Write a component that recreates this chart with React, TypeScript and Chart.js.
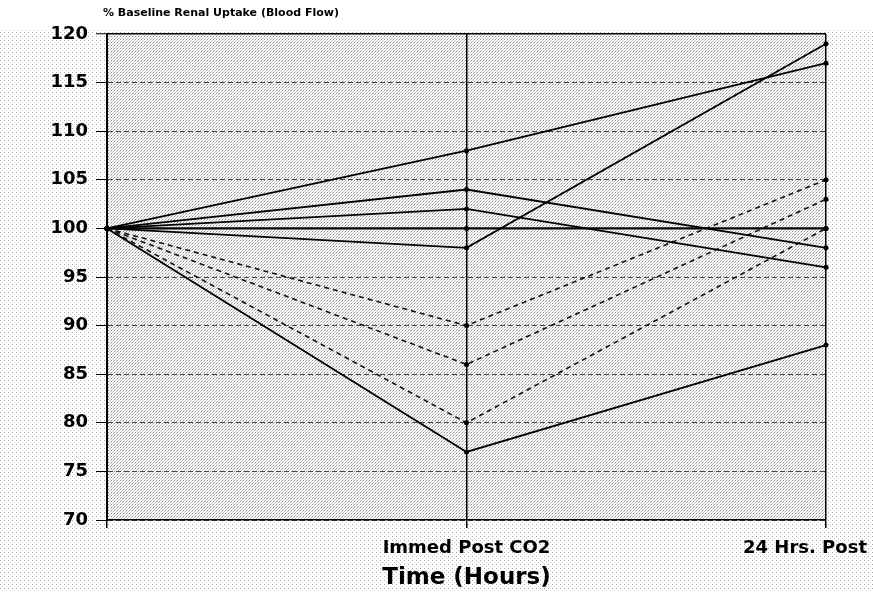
import React, { useEffect, useRef } from "react";
import { Chart, registerables } from "chart.js";

Chart.register(...registerables);

// ---- data ----
const timePoints = ["Baseline", "Immed Post CO2", "24 Hrs. Post"];
const tickLabels = ["", "Immed Post CO2", "24 Hrs. Post"];
const yMin = 70;
const yMax = 120;
const yStep = 5;

const solid1 = [100, 108, 117];
const solid2 = [100, 104, 98];
const solid3 = [100, 102, 96];
const solid4 = [100, 98, 119];
const solid5 = [100, 77, 88];
const solid6 = [100, 100, 100];
const dashed1 = [100, 90, 105];
const dashed2 = [100, 86, 103];
const dashed3 = [100, 80, 100];

const chartTitle = "% Baseline Renal Uptake (Blood Flow)";
const xAxisTitle = "Time (Hours)";

const FONT = '"DejaVu Sans", "Liberation Sans", sans-serif';

function makePattern(
  ctx: CanvasRenderingContext2D,
  bg: string,
  dots: [number, number, string][],
  size: number
) {
  const c = document.createElement("canvas");
  c.width = size;
  c.height = size;
  const g = c.getContext("2d")!;
  g.fillStyle = bg;
  g.fillRect(0, 0, size, size);
  dots.forEach(([x, y, col]) => {
    g.fillStyle = col;
    g.fillRect(x, y, 1, 1);
  });
  return ctx.createPattern(c, "repeat")!;
}

const bgPlugin = {
  id: "stippleBg",
  beforeDraw(chart: any) {
    const { ctx, chartArea: a, width, height } = chart;
    ctx.save();
    ctx.fillStyle = makePattern(ctx, "#ffffff", [[0, 0, "#a8a8a8"], [2, 2, "#cccccc"]], 4);
    ctx.fillRect(0, 0, width, height);
    ctx.fillStyle = "#ffffff";
    ctx.fillRect(0, 0, width, 30);
    ctx.fillStyle = makePattern(
      ctx,
      "#fafafa",
      [[0, 0, "#8c8c8c"], [2, 1, "#c4c4c4"], [1, 2, "#cacaca"]],
      3
    );
    ctx.fillRect(a.left, a.top, a.right - a.left, a.bottom - a.top);
    ctx.restore();
  },
};

const textPlugin = {
  id: "texts",
  afterDraw(chart: any) {
    const { ctx, chartArea: a, width } = chart;
    const xs = chart.scales.x;
    ctx.save();
    ctx.fillStyle = "#000";
    ctx.textBaseline = "middle";
    ctx.textAlign = "left";
    ctx.font = `bold 11px ${FONT}`;
    ctx.fillText(chartTitle, 103, 13);

    ctx.font = `bold 18px ${FONT}`;
    ctx.textAlign = "center";
    tickLabels.forEach((t, i) => {
      if (!t) return;
      const px = xs.getPixelForValue(i);
      const w = ctx.measureText(t).width;
      let cx = px;
      if (cx + w / 2 > width - 6) cx = width - 6 - w / 2;
      ctx.fillText(t, cx, 548);
    });

    ctx.font = `bold 23px ${FONT}`;
    ctx.fillText(xAxisTitle, (a.left + a.right) / 2, 578);
    ctx.restore();
  },
};

function solidSet(label: string, data: number[], width = 1.8) {
  return {
    label,
    data,
    borderColor: "#000",
    backgroundColor: "#000",
    borderWidth: width,
    pointRadius: 2.5,
    pointBackgroundColor: "#000",
    pointBorderWidth: 0,
    tension: 0,
  };
}

function dashedSet(label: string, data: number[]) {
  return {
    label,
    data,
    borderColor: "#111",
    backgroundColor: "#000",
    borderWidth: 1.6,
    borderDash: [5, 4],
    pointRadius: 2.5,
    pointBackgroundColor: "#000",
    pointBorderWidth: 0,
    tension: 0,
  };
}

export default function App() {
  const ref = useRef<HTMLCanvasElement>(null);

  useEffect(() => {
    if (!ref.current) return;
    const chart = new Chart(ref.current, {
      type: "line",
      data: {
        labels: timePoints,
        datasets: [
          solidSet("Series 1", solid1),
          solidSet("Series 2", solid2),
          solidSet("Series 3", solid3),
          solidSet("Series 4", solid4),
          solidSet("Series 5", solid5),
          solidSet("Series 6", solid6, 2.4),
          dashedSet("Series 7", dashed1),
          dashedSet("Series 8", dashed2),
          dashedSet("Series 9", dashed3),
        ] as any,
      },
      options: {
        animation: false,
        responsive: false,
        devicePixelRatio: 1,
        layout: { padding: { top: 34, right: 47, bottom: 0, left: 0 } },
        plugins: {
          legend: { display: false },
          tooltip: { enabled: false },
          title: { display: false },
        },
        scales: {
          x: {
            type: "category",
            offset: false,
            ticks: { display: false },
            grid: {
              color: "#000",
              lineWidth: 1.5,
              tickLength: 8,
              drawTicks: true,
            },
            border: { display: true, color: "#000", width: 1.5 },
            afterFit: (s: any) => {
              s.height = 72;
            },
          },
          y: {
            min: yMin,
            max: yMax,
            ticks: {
              stepSize: yStep,
              color: "#000",
              padding: 8,
              font: { family: FONT, weight: "bold", size: 18 },
            },
            grid: {
              color: (c: any) => (c.tick && c.tick.value === yMax ? "#000" : "#444"),
              lineWidth: (c: any) => (c.tick && c.tick.value === yMax ? 1.5 : 1),
              tickLength: 11,
              tickColor: "#000",
              tickBorderDash: [],
              tickWidth: 1,
            },
            border: {
              display: true,
              color: "#000",
              width: 2,
              dash: (c: any) => (c.tick && c.tick.value !== yMax ? [5, 3] : []),
            },
            afterFit: (s: any) => {
              s.width = 107;
            },
          },
        } as any,
      },
      plugins: [bgPlugin, textPlugin],
    });
    return () => chart.destroy();
  }, []);

  return (
    <div style={{ position: "fixed", left: 0, top: 0, width: 873, height: 592 }}>
      <canvas ref={ref} width={873} height={592} style={{ width: 873, height: 592, display: "block" }} />
    </div>
  );
}
